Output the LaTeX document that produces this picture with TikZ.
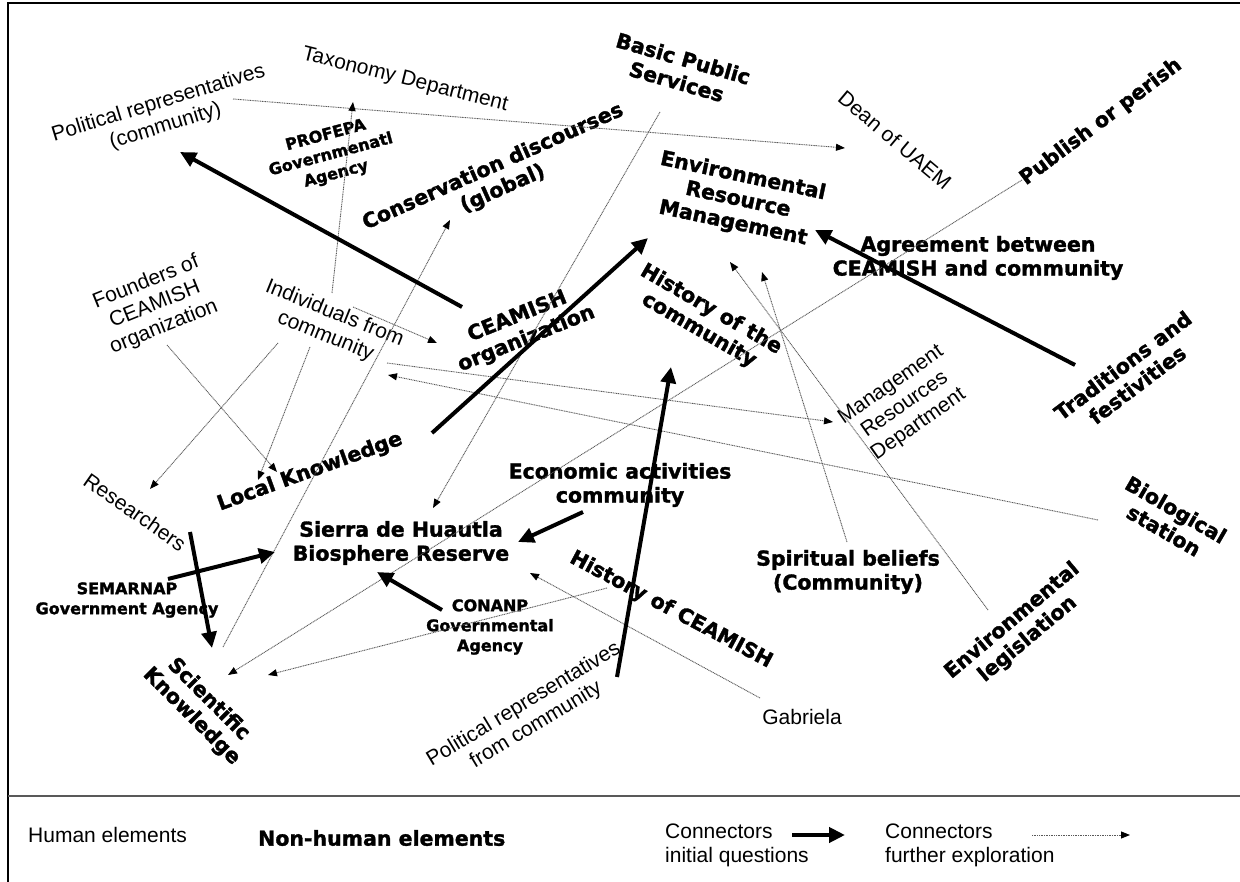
\documentclass[tikz,border=0pt]{standalone}
\usepackage{fontspec}
\setmainfont{Liberation Sans}
\newfontfamily\heavy{DejaVu Sans}[BoldFeatures={FakeBold=1.6}]
\usetikzlibrary{arrows.meta}
\tikzset{
  hum/.style={font=\fontsize{21}{24}\selectfont, align=center, inner sep=0pt},
  non/.style={font=\heavy\bfseries\fontsize{20.5}{24}\selectfont, align=center, inner sep=0pt},
  agency/.style={font=\heavy\bfseries\fontsize{16}{20}\selectfont, align=center, inner sep=0pt},
  thk/.style={line width=4pt, -{Triangle[length=16pt,width=15pt]}},
  dot/.style={line width=0.9pt, black!65, dash pattern=on 1pt off 0.7pt, arrows={-{Triangle[length=9pt,width=7pt,black]}}},
}
\begin{document}
\begin{tikzpicture}[x=1pt,y=-1pt]
\useasboundingbox (0,0) rectangle (1240,882);
% frame
\draw[line width=2.5pt] (8,882) -- (8,3) -- (1240,3);
\draw[line width=1.5pt, black!65] (8,796) -- (1240,796);

% human elements
\node[hum, rotate=17] (polrep1) at (162,115) {Political representatives\\(community)};
\node[hum, rotate=-14] (taxo) at (405,80) {Taxonomy Department};
\node[hum, rotate=-40] (dean) at (895,140) {Dean of UAEM};
\node[hum, rotate=22] (founders) at (155,305) {Founders of\\CEAMISH\\organization};
\node[hum, rotate=-22] (indiv) at (330,325) {Individuals from\\community};
\node[hum, rotate=-35] (research) at (135,512) {Researchers};
\node[hum, rotate=35] (mrd) at (905,405) {Management\\Resources\\Department};
\node[hum, rotate=31] (polrep2) at (530,715) {Political representatives\\from community};
\node[hum] (gabriela) at (802,717) {Gabriela};

% non-human elements
\node[non, rotate=-16] (basic) at (680,70) {Basic Public\\Services};
\node[non, rotate=37] (publish) at (1101,122) {Publish or perish};
\node[agency, rotate=15] (profepa) at (331,155) {PROFEPA\\Governmenatl\\Agency};
\node[non, rotate=24] (conserv) at (498,178) {Conservation discourses\\(global)};
\node[non, rotate=-12] (erm) at (738,200) {Environmental\\Resource\\Management};
\node[non] (agree) at (978,258) {Agreement between\\CEAMISH and community};
\node[non, rotate=22] (ceamish) at (522,328) {CEAMISH\\organization};
\node[non, rotate=-30] (histcomm) at (705,320) {History of the\\community};
\node[non, rotate=20] (local) at (310,472) {Local Knowledge};
\node[non] (sierra) at (401,543) {Sierra de Huautla\\Biosphere Reserve};
\node[non] (econ) at (620,485) {Economic activities\\community};
\node[agency] (semarnap) at (127,600) {SEMARNAP\\Government Agency};
\node[agency] (conanp) at (490,627) {CONANP\\Governmental\\Agency};
\node[non, rotate=-28] (histceam) at (671,610) {History of CEAMISH};
\node[non] (spirit) at (848,572) {Spiritual beliefs\\(Community)};
\node[non, rotate=37] (trad) at (1130,375) {Traditions and\\festivities};
\node[non, rotate=-30] (bio) at (1170,520) {Biological\\station};
\node[non, rotate=40] (envleg) at (1020,630) {Environmental\\legislation};
\node[non, rotate=-45] (sci) at (200,708) {Scientific\\Knowledge};

% further exploration connectors
\draw[dot] ([shift={(71,-16)}]polrep1.center) -- ([shift={(-50,8)}]dean.center);
\draw[dot] ([shift={(2,-32)}]indiv.center) -- ([shift={(-52,22)}]taxo.center);
\draw[dot] ([shift={(23,-18)}]indiv.center) -- ([shift={(-85,15)}]ceamish.center);
\draw[dot] ([shift={(57,38)}]indiv.center) -- ([shift={(-72,17)}]mrd.center);
\draw[dot] ([shift={(-72,0)}]bio.center) -- ([shift={(58,50)}]indiv.center);
\draw[dot] ([shift={(12,40)}]founders.center) -- ([shift={(-33,0)}]local.center);
\draw[dot] ([shift={(-20,22)}]indiv.center) -- ([shift={(-52,8)}]local.center);
\draw[dot] ([shift={(-52,18)}]indiv.center) -- ([shift={(15,-23)}]research.center);
\draw[dot] ([shift={(23,-61)}]sci.center) -- ([shift={(-48,42)}]conserv.center);
\draw[dot] ([shift={(-20,42)}]basic.center) -- ([shift={(32,-35)}]sierra.center);
\draw[dot] ([shift={(-79,58)}]publish.center) -- ([shift={(28,-33)}]sci.center);
\draw[dot] ([shift={(-64,-22)}]histceam.center) -- ([shift={(68,-33)}]sci.center);
\draw[dot] ([shift={(-42,-19)}]gabriela.center) -- ([shift={(129,30)}]sierra.center);
\draw[dot] ([shift={(-1,-30)}]spirit.center) -- ([shift={(24,72)}]erm.center);
\draw[dot] ([shift={(-32,-20)}]envleg.center) -- ([shift={(-8,62)}]erm.center);

% initial question connectors
\draw[thk] ([shift={(-60,-21)}]ceamish.center) -- ([shift={(18,37)}]polrep1.center);
\draw[thk] ([shift={(122,-39)}]local.center) -- ([shift={(-90,38)}]erm.center);
\draw[thk] ([shift={(-55,-10)}]trad.center) -- ([shift={(77,30)}]erm.center);
\draw[thk] ([shift={(87,-38)}]polrep2.center) -- ([shift={(-34,47)}]histcomm.center);
\draw[thk] ([shift={(-37,27)}]econ.center) -- ([shift={(117,-1)}]sierra.center);
\draw[thk] ([shift={(41,-21)}]semarnap.center) -- ([shift={(-126,9)}]sierra.center);
\draw[thk] ([shift={(55,20)}]research.center) -- ([shift={(12,-60)}]sci.center);
\draw[thk] ([shift={(-48,-17)}]conanp.center) -- ([shift={(-24,29)}]sierra.center);

% legend
\node[hum, anchor=west] (leghum) at (28,835) {Human elements};
\node[non, anchor=west] (legnon) at (258,838) {Non-human elements};
\node[hum, anchor=west, align=left] (legthk) at (665,845) {Connectors\\initial questions};
\node[hum, anchor=west, align=left] (legdot) at (885,845) {Connectors\\further exploration};
\coordinate (lt1) at (792,835);
\coordinate (lt2) at (845,835);
\coordinate (ld1) at (1032,835);
\coordinate (ld2) at (1130,835);
\draw[thk] (lt1) -- (lt2);
\draw[dot] (ld1) -- (ld2);
\end{tikzpicture}
\end{document}
